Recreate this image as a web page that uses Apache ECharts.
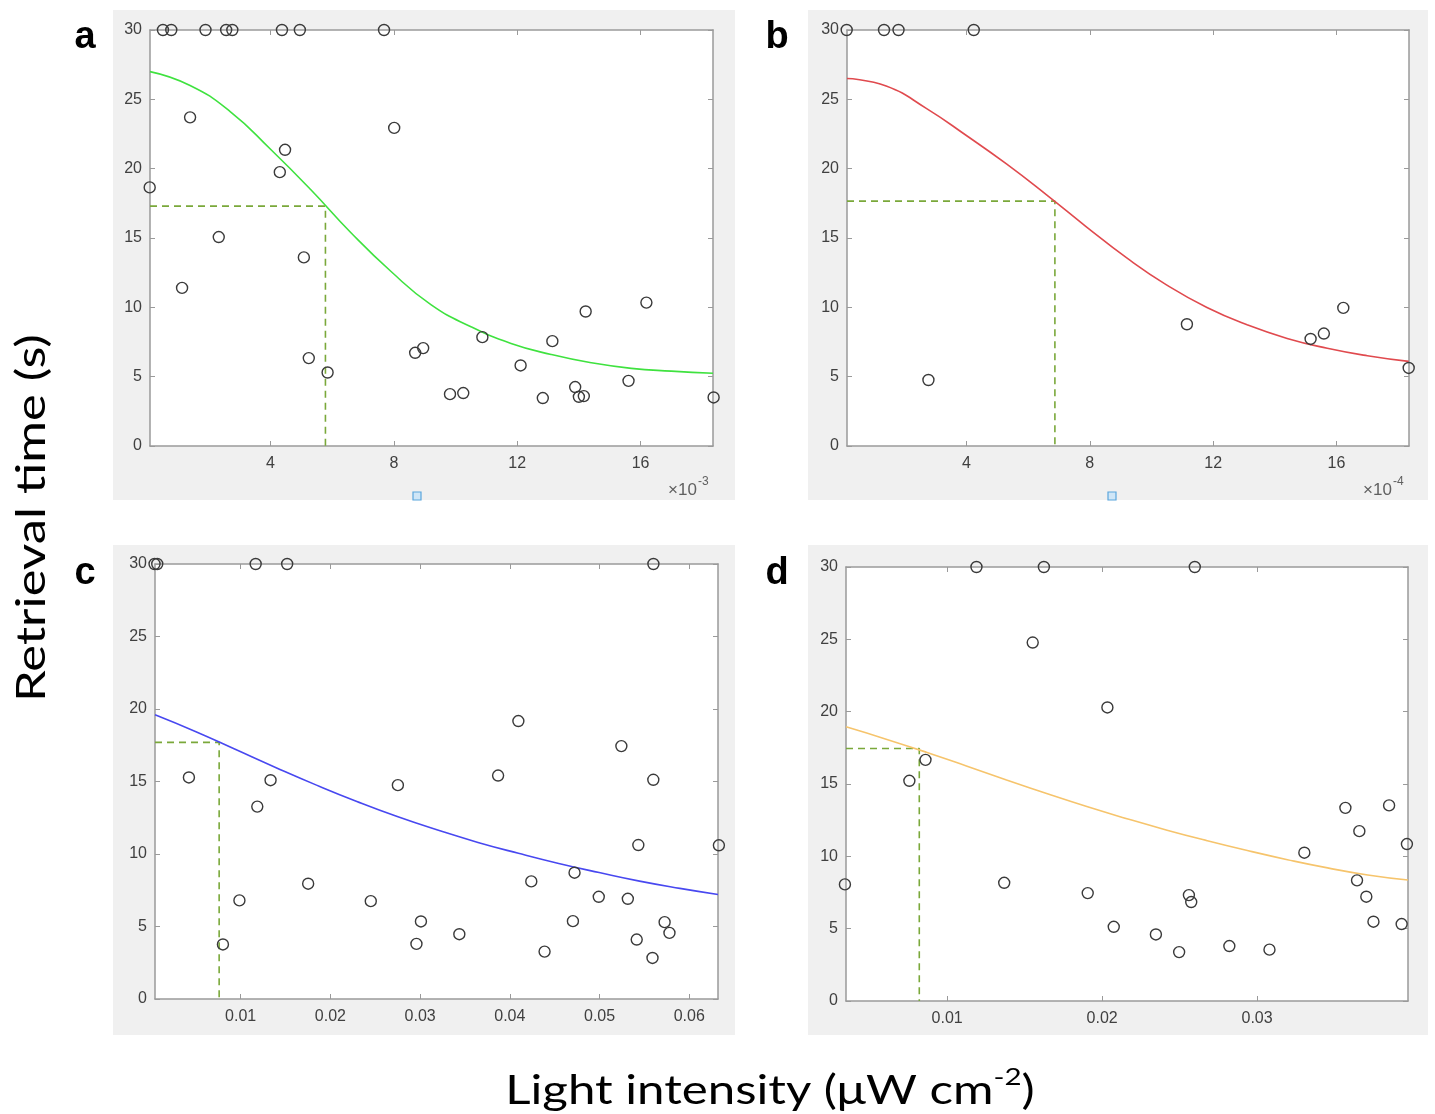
<!DOCTYPE html>
<html>
<head>
<meta charset="utf-8">
<script src="https://cdn.jsdelivr.net/npm/echarts@6/dist/echarts.min.js"></script>
<style>
html,body{margin:0;padding:0;background:#fff;}
#chart{width:1435px;height:1114px;}
</style>
</head>
<body>
<div id="chart"></div>
<script>
// ---------- Panel a (x in units of 1e-3) ----------
const aX = [0.51, 0.78, 1.89, 2.56, 2.76, 4.37, 4.95, 7.68, 0.08, 1.39, 1.13, 2.32, 4.30, 4.47, 5.08, 5.24, 5.85, 8.01, 8.69, 8.95, 9.82, 10.25, 10.87, 12.11, 12.83, 13.14, 13.88, 14.0, 14.16, 14.22, 15.61, 16.19, 18.37];
const aY = [30, 30, 30, 30, 30, 30, 30, 30, 18.65, 23.7, 11.4, 15.07, 19.75, 21.36, 13.6, 6.34, 5.30, 22.94, 6.72, 7.06, 3.74, 3.82, 7.85, 5.81, 3.46, 7.56, 4.25, 3.55, 3.6, 9.7, 4.70, 10.34, 3.50];
const aFitX = [0.09, 1.39, 2.7, 4.0, 5.3, 6.6, 7.9, 9.2, 10.5, 11.8, 13.1, 14.4, 15.7, 17.0, 18.35];
const aFitY = [27.0, 26.0, 24.1, 21.4, 18.5, 15.4, 12.6, 10.2, 8.6, 7.4, 6.6, 6.0, 5.6, 5.4, 5.25];
const aDash = {x: 5.78, y: 17.3};
const aTicks = [4, 8, 12, 16];

// ---------- Panel b (x in units of 1e-4) ----------
const bX = [0.12, 1.33, 1.80, 4.24, 2.77, 11.15, 15.16, 15.59, 16.22, 18.34];
const bY = [30, 30, 30, 30, 4.76, 8.78, 7.72, 8.11, 9.96, 5.63];
const bFitX = [0.13, 1.4, 2.7, 4.0, 5.3, 6.6, 7.9, 9.2, 10.5, 11.8, 13.1, 14.4, 15.7, 17.0, 18.34];
const bFitY = [26.5, 25.96, 24.35, 22.39, 20.34, 18.11, 15.79, 13.56, 11.6, 9.99, 8.74, 7.76, 7.05, 6.51, 6.1];
const bDash = {x: 6.87, y: 17.66};
const bTicks = [4, 8, 12, 16];

// ---------- Panel c ----------
const cX = [0.0004, 0.0007, 0.01167, 0.01518, 0.0560, 0.00423, 0.01333, 0.01185, 0.00802, 0.00986, 0.01752, 0.02450, 0.02752, 0.02959, 0.03009, 0.03437, 0.03869, 0.04095, 0.04239, 0.04387, 0.04703, 0.04721, 0.04991, 0.05243, 0.05315, 0.05414, 0.05432, 0.05599, 0.0559, 0.05725, 0.05779, 0.0633];
const cY = [30, 30, 30, 30, 30, 15.28, 15.09, 13.27, 3.76, 6.80, 7.95, 6.75, 14.75, 3.80, 5.35, 4.47, 15.41, 19.17, 8.11, 3.27, 5.37, 8.71, 7.05, 17.44, 6.91, 4.10, 10.62, 15.12, 2.83, 5.30, 4.56, 10.6];
const cFitX = [0.00045, 0.00495, 0.00945, 0.01395, 0.01845, 0.02295, 0.02745, 0.03195, 0.03645, 0.04095, 0.04545, 0.04995, 0.05445, 0.05895, 0.0632];
const cFitY = [19.6, 18.45, 17.2, 15.95, 14.75, 13.62, 12.58, 11.65, 10.8, 10.05, 9.35, 8.72, 8.13, 7.63, 7.21];
const cDash = {x: 0.0076, y: 17.7};
const cTicks = [0.01, 0.02, 0.03, 0.04, 0.05, 0.06];

// ---------- Panel d ----------
const dX = [0.01189, 0.01624, 0.02598, 0.0034, 0.00756, 0.0086, 0.01368, 0.01552, 0.01907, 0.02034, 0.02075, 0.02347, 0.02497, 0.02560, 0.02575, 0.02821, 0.0308, 0.03305, 0.0357, 0.0366, 0.03645, 0.03705, 0.03751, 0.03852, 0.03933, 0.03967];
const dY = [30, 30, 30, 8.06, 15.22, 16.67, 8.17, 24.78, 7.46, 20.29, 5.13, 4.6, 3.38, 7.32, 6.84, 3.80, 3.55, 10.25, 13.35, 11.74, 8.34, 7.21, 5.48, 13.52, 5.32, 10.85];
const dFitX = [0.00347, 0.00606, 0.00865, 0.01124, 0.01383, 0.01642, 0.01901, 0.0216, 0.02419, 0.02678, 0.02937, 0.03196, 0.03455, 0.03714, 0.03974];
const dFitY = [18.95, 18.1, 17.2, 16.25, 15.28, 14.34, 13.44, 12.6, 11.81, 11.08, 10.4, 9.77, 9.2, 8.71, 8.36];
const dDash = {x: 0.0082, y: 17.45};
const dTicks = [0.01, 0.02, 0.03];

const panels = [
  {px: aX, py: aY, fx: aFitX, fy: aFitY, dash: aDash, ticks: aTicks, min: 0.09, max: 18.35, color: '#3fe23f', fmt: v => String(v),
   grid: {left: 150, top: 30, width: 563, height: 416}},
  {px: bX, py: bY, fx: bFitX, fy: bFitY, dash: bDash, ticks: bTicks, min: 0.13, max: 18.35, color: '#e04a4e', fmt: v => String(v),
   grid: {left: 847, top: 30, width: 562, height: 416}},
  {px: cX, py: cY, fx: cFitX, fy: cFitY, dash: cDash, ticks: cTicks, min: 0.00045, max: 0.0632, color: '#4848f0', fmt: v => v.toFixed(2),
   grid: {left: 155, top: 564, width: 563, height: 435}},
  {px: dX, py: dY, fx: dFitX, fy: dFitY, dash: dDash, ticks: dTicks, min: 0.00347, max: 0.03974, color: '#f6c46c', fmt: v => v.toFixed(2),
   grid: {left: 846, top: 567, width: 562, height: 434}}
];

const axisColor = '#9a9a9a';
const labelColor = '#404040';
const tickFont = 'Liberation Sans, Arial, sans-serif';

const grids = [], xAxes = [], yAxes = [], series = [];
panels.forEach((p, i) => {
  grids.push(Object.assign({show: true, backgroundColor: '#ffffff', borderWidth: 0, containLabel: false}, p.grid));
  xAxes.push({
    gridIndex: i, type: 'value', position: 'bottom', min: p.min, max: p.max,
    axisLine: {show: true, onZero: false, lineStyle: {color: axisColor, width: 1.5}},
    axisTick: {show: true, inside: true, length: 5, customValues: p.ticks, lineStyle: {color: axisColor}},
    axisLabel: {show: true, customValues: p.ticks, formatter: p.fmt, color: labelColor, fontSize: 16, fontFamily: tickFont, margin: 10},
    splitLine: {show: false}
  });
  xAxes.push({
    gridIndex: i, type: 'value', position: 'top', min: p.min, max: p.max,
    axisLine: {show: true, onZero: false, lineStyle: {color: axisColor, width: 1.5}},
    axisTick: {show: true, inside: true, length: 5, customValues: p.ticks, lineStyle: {color: axisColor}},
    axisLabel: {show: false},
    splitLine: {show: false}
  });
  yAxes.push({
    gridIndex: i, type: 'value', position: 'left', min: 0, max: 30, interval: 5,
    axisLine: {show: true, onZero: false, lineStyle: {color: axisColor, width: 1.5}},
    axisTick: {show: true, inside: true, length: 5, lineStyle: {color: axisColor}},
    axisLabel: {show: true, color: labelColor, fontSize: 16, fontFamily: tickFont, margin: 8},
    splitLine: {show: false}
  });
  yAxes.push({
    gridIndex: i, type: 'value', position: 'right', min: 0, max: 30, interval: 5,
    axisLine: {show: true, onZero: false, lineStyle: {color: axisColor, width: 1.5}},
    axisTick: {show: true, inside: true, length: 5, lineStyle: {color: axisColor}},
    axisLabel: {show: false},
    splitLine: {show: false}
  });
  const xi = 2 * i, yi = 2 * i;
  series.push({
    type: 'line', xAxisIndex: xi, yAxisIndex: yi, silent: true, symbol: 'none', z: 2,
    data: [[p.min, p.dash.y], [p.dash.x, p.dash.y], [p.dash.x, 0]],
    lineStyle: {color: '#7aa83a', width: 1.6, type: [7, 5]}
  });
  series.push({
    type: 'line', xAxisIndex: xi, yAxisIndex: yi, silent: true, symbol: 'none', smooth: 0.5, z: 3,
    data: p.fx.map((x, k) => [x, p.fy[k]]),
    lineStyle: {color: p.color, width: 1.6}
  });
  series.push({
    type: 'scatter', xAxisIndex: xi, yAxisIndex: yi, clip: false, z: 4,
    symbol: 'circle', symbolSize: 11,
    data: p.px.map((x, k) => [x, p.py[k]]),
    itemStyle: {color: 'rgba(255,255,255,0)', borderColor: '#3a3a3a', borderWidth: 1.4, opacity: 1}
  });
});

const bgColor = '#f0f0f0';
const titleFont = 'Lato, Open Sans, sans-serif';
const graphics = [
  {type: 'rect', z: -10, shape: {x: 113, y: 10, width: 622, height: 490}, style: {fill: bgColor}},
  {type: 'rect', z: -10, shape: {x: 808, y: 10, width: 620, height: 490}, style: {fill: bgColor}},
  {type: 'rect', z: -10, shape: {x: 113, y: 545, width: 622, height: 490}, style: {fill: bgColor}},
  {type: 'rect', z: -10, shape: {x: 808, y: 545, width: 620, height: 490}, style: {fill: bgColor}},
  {type: 'text', x: 668, y: 482, style: {text: '×10', fill: '#606060', font: '17px Liberation Sans, Arial, sans-serif'}},
  {type: 'text', x: 698, y: 476, style: {text: '-3', fill: '#606060', font: '12px Liberation Sans, Arial, sans-serif'}},
  {type: 'text', x: 1363, y: 482, style: {text: '×10', fill: '#606060', font: '17px Liberation Sans, Arial, sans-serif'}},
  {type: 'text', x: 1393, y: 476, style: {text: '-4', fill: '#606060', font: '12px Liberation Sans, Arial, sans-serif'}},
  {type: 'rect', shape: {x: 413, y: 492, width: 8, height: 8}, style: {fill: '#cfe6f7', stroke: '#5aa6dc', lineWidth: 1.2}},
  {type: 'rect', shape: {x: 1108, y: 492, width: 8, height: 8}, style: {fill: '#cfe6f7', stroke: '#5aa6dc', lineWidth: 1.2}},
  {type: 'text', x: 85, y: 38, style: {text: 'a', fill: '#000', font: 'bold 38px Liberation Sans, Arial, sans-serif', textAlign: 'center', textVerticalAlign: 'middle'}},
  {type: 'text', x: 777, y: 38, style: {text: 'b', fill: '#000', font: 'bold 38px Liberation Sans, Arial, sans-serif', textAlign: 'center', textVerticalAlign: 'middle'}},
  {type: 'text', x: 85, y: 574, style: {text: 'c', fill: '#000', font: 'bold 38px Liberation Sans, Arial, sans-serif', textAlign: 'center', textVerticalAlign: 'middle'}},
  {type: 'text', x: 777, y: 574, style: {text: 'd', fill: '#000', font: 'bold 38px Liberation Sans, Arial, sans-serif', textAlign: 'center', textVerticalAlign: 'middle'}},
  {type: 'text', x: 32, y: 518, rotation: Math.PI / 2, scaleX: 1.27,
   style: {text: 'Retrieval time (s)', fill: '#000', font: '40px ' + titleFont, textAlign: 'center', textVerticalAlign: 'middle'}},
  {type: 'text', x: 770, y: 1088, scaleX: 1.23,
   style: {text: '{n|Light intensity (μW cm}{s|-2}{n|)}', textAlign: 'center', textVerticalAlign: 'middle',
     rich: {
       n: {fontSize: 40, fontFamily: titleFont, fill: '#000', lineHeight: 46, verticalAlign: 'bottom'},
       s: {fontSize: 24, fontFamily: titleFont, fill: '#000', lineHeight: 46, verticalAlign: 'top'}
     }}}
];

const chart = echarts.init(document.getElementById('chart'), null, {renderer: 'canvas'});
chart.setOption({
  animation: false,
  backgroundColor: '#ffffff',
  grid: grids,
  xAxis: xAxes,
  yAxis: yAxes,
  series: series,
  graphic: {elements: graphics}
});
</script>
</body>
</html>
